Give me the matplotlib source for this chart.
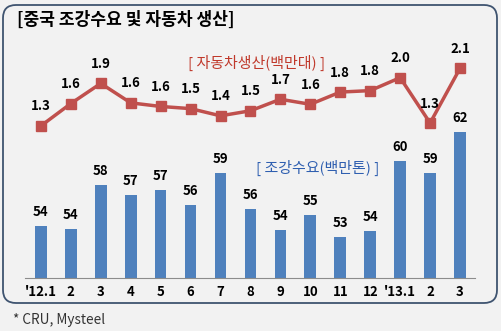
import matplotlib
matplotlib.use("Agg")
import matplotlib.pyplot as plt
from matplotlib.patches import FancyBboxPatch
from matplotlib.transforms import IdentityTransform

plt.rcParams['font.family'] = ['Noto Sans CJK KR', 'DejaVu Sans']

## data
months = ["'12.1", "2", "3", "4", "5", "6", "7", "8", "9", "10", "11", "12", "'13.1", "2", "3"]
steel = [54.1, 53.9, 57.6, 56.8, 57.2, 55.9, 58.6, 55.6, 53.8, 55.1, 53.2, 53.7, 59.7, 58.6, 62.1]  # 백만톤
cars = [1.30, 1.61, 1.89, 1.62, 1.57, 1.54, 1.44, 1.51, 1.67, 1.60, 1.77, 1.79, 1.97, 1.34, 2.10]  # 백만대

W, H = 502, 331
fig = plt.figure(figsize=(W / 100, H / 100), dpi=100, facecolor='#f2f2f2')

# rounded frame (pixel coords), drawn beneath the axes
box = FancyBboxPatch((3, 28), 494, 298, boxstyle="round,pad=0,rounding_size=13",
                     transform=IdentityTransform(), facecolor='#f2f2f2',
                     edgecolor='#3f5470', linewidth=1.3, zorder=-1)
fig.add_artist(box)

ax = fig.add_axes([25 / W, 53 / H, 450 / W, 240 / H])
ax.set_facecolor('none')
x = list(range(len(months)))
ax.bar(x, steel, width=0.39, color='#4f81bd', zorder=2)
ax.set_ylim(49.7, 49.7 + 240 / 11.75)
ax.set_xlim(-0.53, 14.5)
for s in ['top', 'left', 'right']:
    ax.spines[s].set_visible(False)
ax.spines['bottom'].set_color('#8c8c8c')
ax.set_yticks([])
ax.set_xticks(x)
ax.set_xticklabels(months, fontsize=9.5, fontweight='bold')
ax.tick_params(axis='x', length=0, pad=5)
for i, v in enumerate(steel):
    ax.annotate("%.0f" % v, (i, v), xytext=(0, 5), textcoords='offset points',
                ha='center', va='bottom', fontsize=9.5, fontweight='bold')

ax2 = ax.twinx()
ax2.set_ylim(2.1 - (278 - 68.3) / 72, 2.1 - (278 - 68.3) / 72 + 240 / 72)
ax2.plot(x, cars, color='#c0504d', linewidth=2.5, marker='s', markersize=6.5, zorder=3)
ax2.axis('off')
for i, v in enumerate(cars):
    ax2.annotate("%.1f" % v, (i, v), xytext=(0, 9), textcoords='offset points',
                 ha='center', va='bottom', fontsize=9.5, fontweight='bold')

fig.text(17 / W, 1 - 20 / H, "[중국 조강수요 및 자동차 생산]", fontsize=12.3, fontweight='bold',
         ha='left', va='center')
fig.text(257 / W, 1 - 63 / H, "[ 자동차생산(백만대) ]", fontsize=10.8, color='#c0392b',
         ha='center', va='center')
fig.text(318 / W, 1 - 168 / H, "[ 조강수요(백만톤) ]", fontsize=10.8, color='#2f5fb0',
         ha='center', va='center')
fig.text(13 / W, 1 - 320 / H, "* CRU, Mysteel", fontsize=9.8, color='#333333',
         ha='left', va='center')

fig.savefig("out.png", dpi=100, facecolor=fig.get_facecolor())
